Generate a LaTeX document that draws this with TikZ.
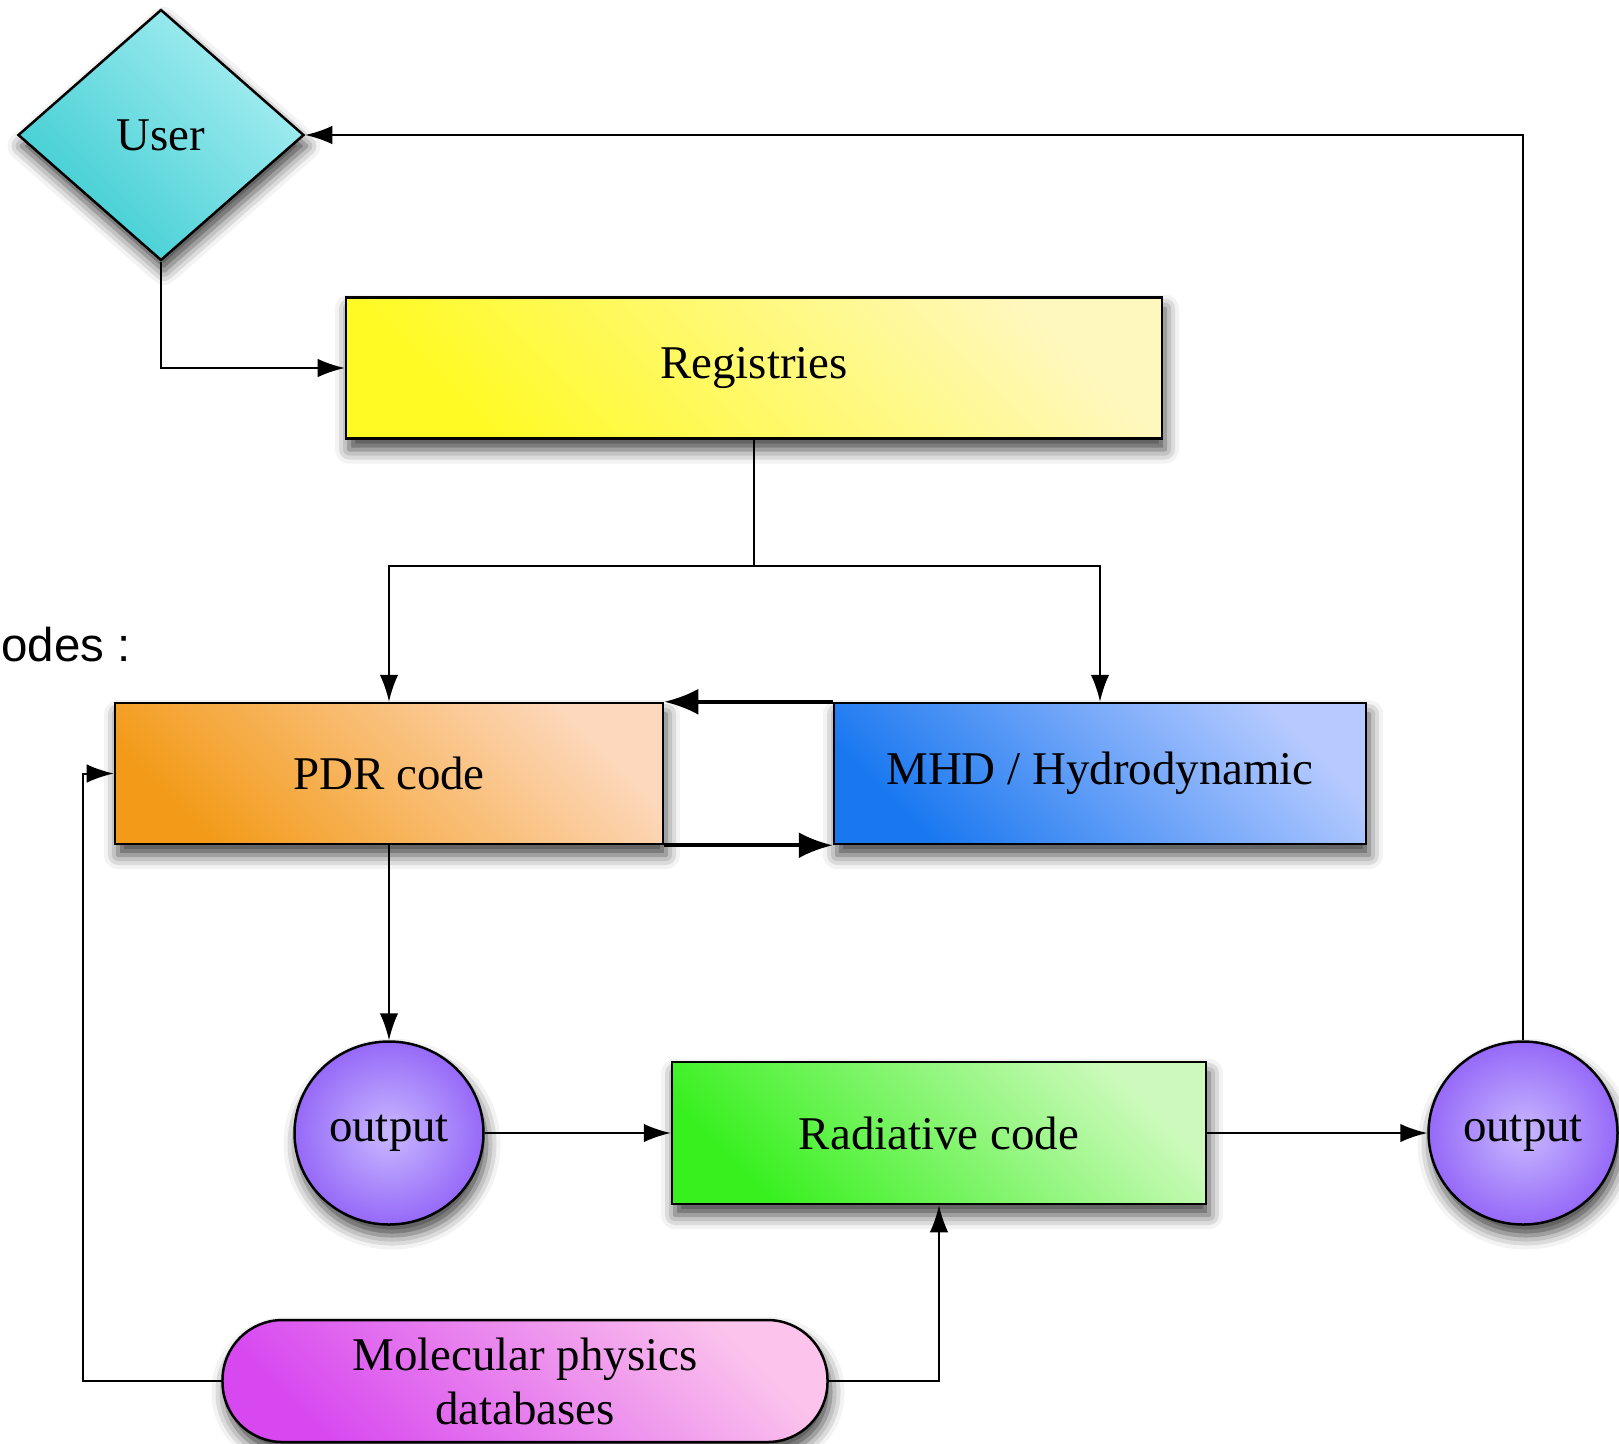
\documentclass[tikz,border=0pt]{standalone}
\usepackage{fontspec}
\setmainfont{Liberation Serif}
\newfontfamily\labelsans{Liberation Sans}
\usetikzlibrary{positioning,shapes.geometric,arrows.meta,shadows.blur}

\newcommand{\boxfont}{\fontsize{26.7}{30.7}\selectfont}

\definecolor{userdark}{RGB}{60,205,210}
\definecolor{userlight}{RGB}{168,238,242}
\definecolor{regdark}{RGB}{255,250,35}
\definecolor{reglight}{RGB}{255,248,190}
\definecolor{pdrdark}{RGB}{243,155,25}
\definecolor{pdrlight}{RGB}{253,216,188}
\definecolor{mhddark}{RGB}{25,120,240}
\definecolor{mhdlight}{RGB}{182,202,255}
\definecolor{raddark}{RGB}{55,240,30}
\definecolor{radlight}{RGB}{205,250,188}
\definecolor{outdark}{RGB}{150,105,248}
\definecolor{outlight}{RGB}{200,185,255}
\definecolor{moldark}{RGB}{215,72,240}
\definecolor{mollight}{RGB}{252,196,236}

\tikzset{
    shade2/.style 2 args={top color=#2, bottom color=#1, shading angle=-45},
    soft/.style={blur shadow={shadow xshift=0.6mm, shadow yshift=-2.2mm,
        shadow blur radius=2.8mm, shadow opacity=75}},
    box/.style={draw, line width=0.5mm, minimum height=28.2mm, font=\boxfont, soft},
    blob/.style={ellipse, draw, line width=0.5mm, minimum width=37.8mm,
        minimum height=36.6mm, inner color=outlight, outer color=outdark,
        font=\boxfont, soft},
    line/.style={line width=0.4mm},
    arr/.style={line, -{Latex[length=5.4mm, width=3.7mm]}},
    bigarr/.style={line width=0.8mm, -{Latex[length=6.8mm, width=5.2mm]}}
}

\begin{document}
\begin{tikzpicture}[x=0.2mm, y=-0.2mm]
        \useasboundingbox (0,0) rectangle (1619,1443);
        % Nodes
        \node (user) at (161,135) [diamond, draw, line width=0.5mm, minimum width=57.2mm,
            minimum height=50.2mm, shade2={userdark}{userlight}, font=\boxfont, soft] {User};
        \node (reg) at (754,368) [box, minimum width=163.2mm, shade2={regdark}{reglight}] {Registries};
        \node (pdr) at (389,773.5) [box, minimum width=109.6mm, shade2={pdrdark}{pdrlight}] {PDR code};
        \node (mhd) at (1100,773.5) [box, minimum width=106.4mm, shade2={mhddark}{mhdlight}] {MHD / Hydrodynamic};
        \node (rad) at (939,1133) [box, minimum width=106.8mm, minimum height=28.4mm,
            shade2={raddark}{radlight}] {Radiative code};
        \node (out1) at (389,1133) [blob] {output};
        \node (out2) at (1523,1133) [blob] {output};
        \node (mol) at (525,1381) [draw, line width=0.5mm, rounded corners=12mm, minimum width=121mm,
            minimum height=24.4mm, align=center, shade2={moldark}{mollight}, soft,
            font=\fontsize{26.7}{10.8mm}\selectfont] {Molecular physics\\databases};
        \node (codes) at (1,645) [anchor=west, inner sep=0pt,
            font=\labelsans\fontsize{27}{30}\selectfont] {odes :};
        % Bends
        \coordinate (split) at (754,566);
        \coordinate (feed) at (83,1381);

        % Edges
        \draw[arr] (user.south) |- (reg.west);
        \draw[line] (reg.south) -- (split);
        \foreach \n in {pdr,mhd} {
            \draw[arr] (split) -| (\n.north);
        }
        \draw[bigarr] (mhd.north west) -- (pdr.north east);
        \draw[bigarr] (pdr.south east) -- (mhd.south west);
        \draw[arr] (pdr.south) -- (out1.north);
        \draw[arr] (out1.east) -- (rad.west);
        \draw[arr] (rad.east) -- (out2.west);
        \draw[arr] (out2.north) |- (user.east);
        \draw[arr] (mol.west) -- (feed) |- (pdr.west);
        \draw[arr] (mol.east) -| (rad.south);

    \end{tikzpicture}
\end{document}
